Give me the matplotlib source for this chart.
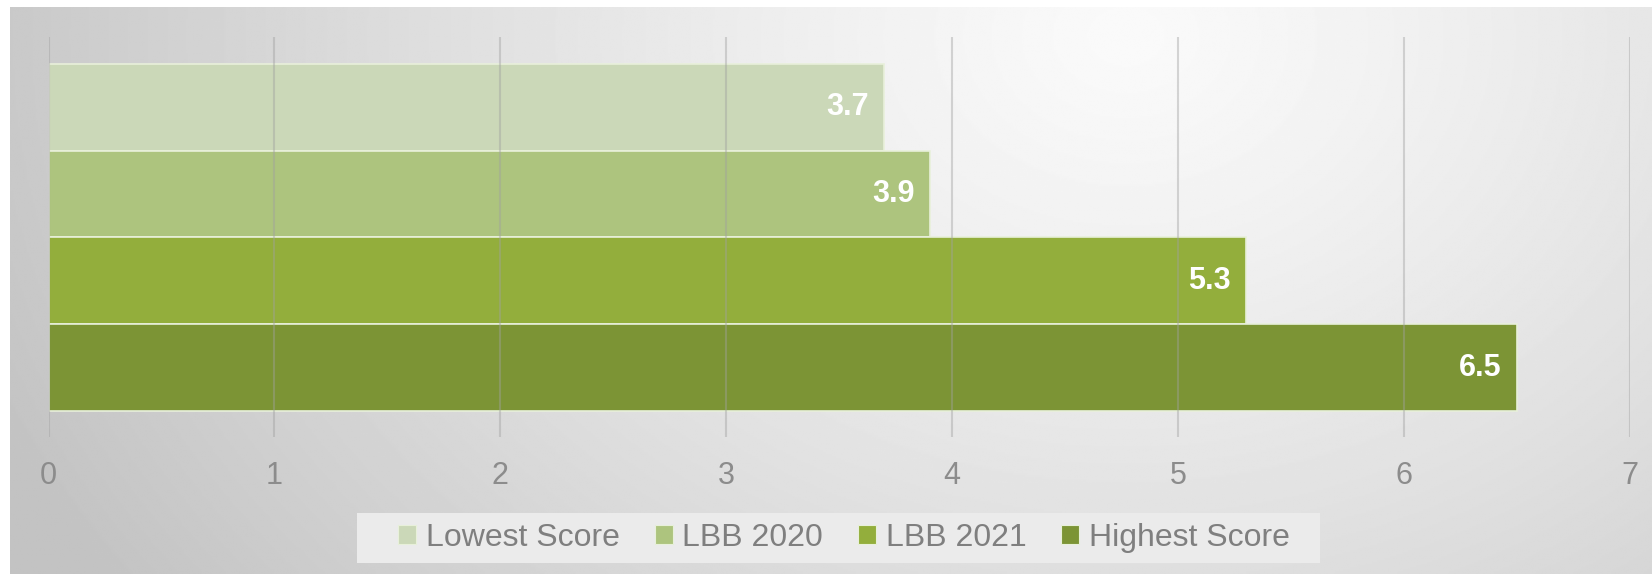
import numpy as np
from matplotlib import pyplot as plt
from matplotlib.patches import Rectangle

plt.rcParams['font.family'] = ['Liberation Sans', 'DejaVu Sans']

# -------------- data
series = ["Lowest Score", "LBB 2020", "LBB 2021", "Highest Score"]
values = [3.7, 3.9, 5.3, 6.5]
colors = ['#cbd8b8', '#adc47e', '#93ae3c', '#7c9435']
xticks = [0, 1, 2, 3, 4, 5, 6, 7]

W, H = 1652, 574
fig = plt.figure(figsize=(W/100, H/100), dpi=100, facecolor='white')

# -------------- gradient background
bg = fig.add_axes([10/W, 0, 1 - 10/W, 1 - 7/H])
yy, xx = np.mgrid[0:1:300j, 0:1:900j]
dist = np.sqrt(((xx - 0.68) / 0.75)**2 + ((yy - 0.05) / 1.7)**2)
dist = np.clip(dist, 0, 1)
shade = 0.98 - 0.215 * dist**1.2
bg.imshow(shade, cmap='gray', vmin=0, vmax=1, aspect='auto', extent=(0, 1, 1, 0))
bg.set_axis_off()

# -------------- bars
ax = fig.add_axes([48.5/W, 1 - 437/H, (1630 - 48.5)/W, 400/H])
ax.set_facecolor('none')
ypos = np.arange(len(series))
ax.barh(ypos, values, height=1.0, color=colors, edgecolor='#e8f0da', linewidth=1.2, zorder=2)
for y, v in zip(ypos, values):
    ax.annotate(f"{v}", xy=(v, y), xytext=(-11, 0), textcoords='offset points',
                ha='right', va='center', color='white', fontsize=22, fontweight='bold', zorder=4)

ax.set_xlim(0, 7)
ax.set_ylim(3.5 + 0.30, -0.5 - 0.31)
ax.set_xticks(xticks)
ax.set_yticks([])
for xt in xticks:
    ax.axvline(xt, color='#a0a0a0', alpha=0.42, linewidth=1.5, zorder=3)
ax.tick_params(axis='x', length=0, pad=17, labelsize=22, labelcolor='#8c8c8c')
for s in ax.spines.values():
    s.set_visible(False)

# -------------- legend
fig.patches.append(Rectangle((357/W, 1 - 563/H), (1320 - 357)/W, 50/H,
                             transform=fig.transFigure, facecolor='#ebebeb',
                             edgecolor='none', zorder=1))
handles = [Rectangle((0, 0), 1, 1, facecolor=c, edgecolor='#e8f0da', linewidth=0.8) for c in colors]
leg = fig.legend(handles, series, loc='center', bbox_to_anchor=(844/W, 1 - 538/H),
                 ncol=4, frameon=False, fontsize=23, handlelength=0.56,
                 handleheight=0.56, handletextpad=0.3, columnspacing=1.1, borderpad=0.2)
for t in leg.get_texts():
    t.set_color('#7f7f7f')

plt.savefig('out.png', dpi=100)
